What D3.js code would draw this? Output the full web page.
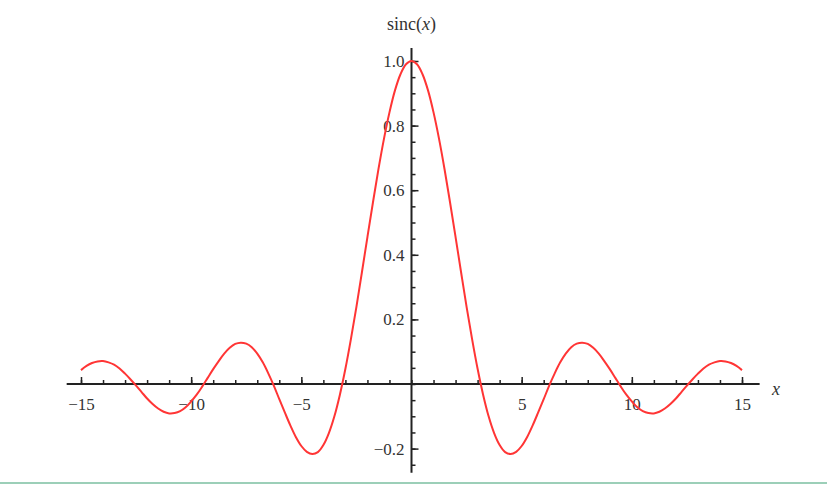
<!DOCTYPE html>
<html>
<head>
<meta charset="utf-8">
<script src="https://cdn.jsdelivr.net/npm/d3@7"></script>
<style>
  html, body { margin: 0; padding: 0; background: #fff; }
  svg { display: block; }
</style>
</head>
<body>
<div id="chart"></div>
<script>
// sample points (x, sinc(x)), every 0.25
const xs = [
  -15, -14.75, -14.5, -14.25, -14, -13.75, -13.5, -13.25, -13, -12.75, -12.5, -12.25, -12, -11.75, -11.5, -11.25,
  -11, -10.75, -10.5, -10.25, -10, -9.75, -9.5, -9.25, -9, -8.75, -8.5, -8.25, -8, -7.75, -7.5, -7.25,
  -7, -6.75, -6.5, -6.25, -6, -5.75, -5.5, -5.25, -5, -4.75, -4.5, -4.25, -4, -3.75, -3.5, -3.25,
  -3, -2.75, -2.5, -2.25, -2, -1.75, -1.5, -1.25, -1, -0.75, -0.5, -0.25,
  0, 0.25, 0.5, 0.75, 1, 1.25, 1.5, 1.75, 2, 2.25, 2.5, 2.75, 3, 3.25, 3.5, 3.75,
  4, 4.25, 4.5, 4.75, 5, 5.25, 5.5, 5.75, 6, 6.25, 6.5, 6.75, 7, 7.25, 7.5, 7.75,
  8, 8.25, 8.5, 8.75, 9, 9.25, 9.5, 9.75, 10, 10.25, 10.5, 10.75, 11, 11.25, 11.5, 11.75,
  12, 12.25, 12.5, 12.75, 13, 13.25, 13.5, 13.75, 14, 14.25, 14.5, 14.75, 15];
const ys = [
  0.043, 0.056, 0.065, 0.070, 0.071, 0.067, 0.060, 0.048, 0.032, 0.014, -0.005, -0.025, -0.045, -0.062, -0.076, -0.086,
  -0.091, -0.090, -0.084, -0.072, -0.054, -0.033, -0.008, 0.019, 0.046, 0.071, 0.094, 0.112, 0.124, 0.128, 0.125, 0.114,
  0.094, 0.067, 0.033, -0.005, -0.047, -0.088, -0.128, -0.164, -0.192, -0.210, -0.217, -0.211, -0.189, -0.152, -0.100, -0.033,
  0.047, 0.139, 0.239, 0.346, 0.455, 0.562, 0.665, 0.759, 0.841, 0.909, 0.959, 0.990,
  1.000, 0.990, 0.959, 0.909, 0.841, 0.759, 0.665, 0.562, 0.455, 0.346, 0.239, 0.139, 0.047, -0.033, -0.100, -0.152,
  -0.189, -0.211, -0.217, -0.210, -0.192, -0.164, -0.128, -0.088, -0.047, -0.005, 0.033, 0.067, 0.094, 0.114, 0.125, 0.128,
  0.124, 0.112, 0.094, 0.071, 0.046, 0.019, -0.008, -0.033, -0.054, -0.072, -0.084, -0.090, -0.091, -0.086, -0.076, -0.062,
  -0.045, -0.025, -0.005, 0.014, 0.032, 0.048, 0.060, 0.067, 0.071, 0.070, 0.065, 0.056, 0.043];

const xMajor = [-15, -10, -5, 5, 10, 15];
const xMinor = [-15, -14, -13, -12, -11, -10, -9, -8, -7, -6, -5, -4, -3, -2, -1, 0, 1, 2, 3, 4, 5, 6, 7, 8, 9, 10, 11, 12, 13, 14, 15];
const yMajor = [-0.2, 0.2, 0.4, 0.6, 0.8, 1.0];
const yMinor = [-0.25, -0.2, -0.15, -0.1, -0.05, 0, 0.05, 0.1, 0.15, 0.2, 0.25, 0.3, 0.35, 0.4, 0.45, 0.5, 0.55, 0.6, 0.65, 0.7, 0.75, 0.8, 0.85, 0.9, 0.95, 1.0];

const W = 827, H = 484;
const serif = "'Liberation Serif', 'DejaVu Serif', serif";
const ink = "#222";

const svg = d3.select("#chart").append("svg")
    .attr("width", W)
    .attr("height", H);

const x = d3.scaleLinear().domain([-15, 15]).range([81, 742]);
const y = d3.scaleLinear().domain([0, 1]).range([384, 61]);

const fmt = v => (v < 0 ? "\u2212" : "") + Math.abs(v);
const fmtY = v => (v < 0 ? "\u2212" : "") + Math.abs(v).toFixed(1);

const styleTicks = g => {
    g.select(".domain").remove();
    g.selectAll("line").attr("stroke", ink).attr("stroke-width", 1.5);
    g.selectAll("text")
        .attr("fill", "#333")
        .style("font-family", serif)
        .style("font-size", "17px");
};

// x axis: minor then major ticks, pointing up
svg.append("g")
    .attr("transform", `translate(0,${y(0)})`)
    .call(d3.axisBottom(x).tickValues(xMinor).tickSize(-4).tickFormat(""))
    .call(styleTicks);

svg.append("g")
    .attr("transform", `translate(0,${y(0)})`)
    .call(d3.axisBottom(x).tickValues(xMajor).tickSize(-7).tickPadding(14).tickFormat(fmt))
    .call(styleTicks);

// y axis: ticks pointing right
svg.append("g")
    .attr("transform", `translate(${x(0)},0)`)
    .call(d3.axisLeft(y).tickValues(yMinor).tickSize(-4).tickFormat(""))
    .call(styleTicks);

svg.append("g")
    .attr("transform", `translate(${x(0)},0)`)
    .call(d3.axisLeft(y).tickValues(yMajor).tickSize(-7).tickPadding(7).tickFormat(fmtY))
    .call(styleTicks);

// axis lines
svg.append("line")
    .attr("x1", x(-15.65)).attr("x2", x(15.8))
    .attr("y1", y(0)).attr("y2", y(0))
    .attr("stroke", ink).attr("stroke-width", 2);
svg.append("line")
    .attr("x1", x(0)).attr("x2", x(0))
    .attr("y1", y(1.04)).attr("y2", y(-0.275))
    .attr("stroke", ink).attr("stroke-width", 2);

// curve
const pts = xs.map((d, i) => [d, ys[i]]);
svg.append("path")
    .datum(pts)
    .attr("fill", "none")
    .attr("stroke", "#ff3535")
    .attr("stroke-width", 2)
    .attr("stroke-linejoin", "round")
    .attr("d", d3.line().x(d => x(d[0])).y(d => y(d[1])).curve(d3.curveCatmullRom.alpha(0.5)));

// axis titles
const title = svg.append("text")
    .attr("x", x(0))
    .attr("y", 30)
    .attr("text-anchor", "middle")
    .attr("fill", "#333")
    .style("font-family", serif)
    .style("font-size", "18px");
title.append("tspan").text("sinc(");
title.append("tspan").style("font-style", "italic").text("x");
title.append("tspan").text(")");

svg.append("text")
    .attr("x", 776)
    .attr("y", 395)
    .attr("text-anchor", "middle")
    .attr("fill", "#333")
    .style("font-family", serif)
    .style("font-size", "18px")
    .style("font-style", "italic")
    .text("x");

// bottom rule
svg.append("rect")
    .attr("x", 0).attr("y", 482)
    .attr("width", W).attr("height", 2)
    .attr("fill", "#9ccfb8");
</script>
</body>
</html>
